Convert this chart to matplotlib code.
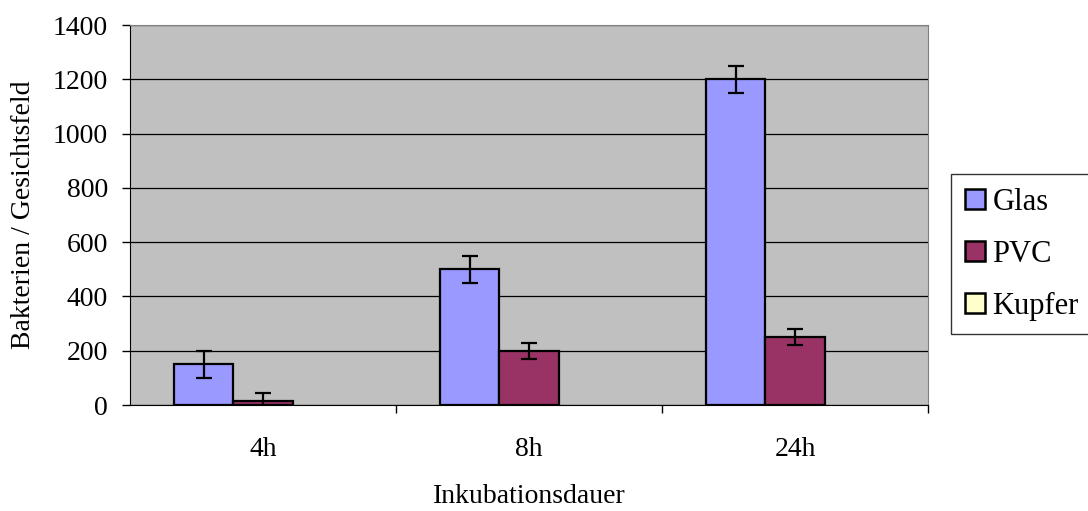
import numpy as np
import matplotlib
matplotlib.use('Agg')
import matplotlib.pyplot as plt
from matplotlib.patches import Patch

plt.rcParams['font.family'] = ['Liberation Serif', 'DejaVu Serif']

# Daten
kategorien = ['4h', '8h', '24h']
serien = ['Glas', 'PVC', 'Kupfer']
glas = [150, 500, 1200]
pvc = [15, 200, 250]
kupfer = [0, 0, 0]
glas_err = [50, 50, 50]
pvc_err = [30, 30, 30]
farben = ['#9999FF', '#993366', '#FFFFCC']

fig = plt.figure(figsize=(10.88, 5.11), dpi=100)
ax = fig.add_axes([130/1088, 1-405/511, 798/1088, 380/511])
ax.set_facecolor('#C0C0C0')

x = np.arange(len(kategorien))
w = 0.222
werte = [glas, pvc, kupfer]
fehler = [glas_err, pvc_err, None]
for i, (name, v, e) in enumerate(zip(serien, werte, fehler)):
    # Balken mit Wert 0 werden nicht umrandet
    lw = [1.6 if val > 0 else 0 for val in v]
    ax.bar(x + (i-1)*w, v, width=w, color=farben[i], edgecolor='black',
           linewidth=lw, zorder=3)
    if e is not None:
        ax.errorbar(x + (i-1)*w, v, yerr=e, fmt='none', ecolor='black',
                    elinewidth=1.6, capsize=6, capthick=1.6, zorder=4)

ax.set_xlim(-0.5, 2.5)
ax.set_ylim(0, 1400)
ax.set_yticks(range(0, 1401, 200))
ax.yaxis.grid(True, color='black', linewidth=0.9, zorder=0)
ax.set_axisbelow(True)

ax.set_xticks(x)
ax.set_xticklabels(kategorien)
ax.set_xticks([0.5, 1.5, 2.5], minor=True)
ax.tick_params(axis='x', which='major', length=0, labelsize=20, pad=23)
ax.tick_params(axis='x', which='minor', length=6, direction='out', width=1)
ax.tick_params(axis='y', length=6, direction='out', width=1, labelsize=20, pad=10)

for s in ['top', 'right']:
    ax.spines[s].set_color('#808080')
for s in ['left', 'bottom']:
    ax.spines[s].set_color('black')

ax.set_ylabel('Bakterien / Gesichtsfeld', fontsize=20, labelpad=12)
ax.set_xlabel('Inkubationsdauer', fontsize=20, labelpad=16)

handles = [Patch(facecolor=c, edgecolor='black', linewidth=1.8) for c in farben]
leg = ax.legend(handles, serien, loc='upper left',
                bbox_to_anchor=((951 - 130)/798, (405 - 174)/380),
                fontsize=22, frameon=True, fancybox=False, edgecolor='black',
                handlelength=0.65, handleheight=0.65, handletextpad=0.25,
                labelspacing=0.75, borderpad=0.45, borderaxespad=0)
leg.get_frame().set_linewidth(1.0)

fig.savefig('out.png', dpi=100)
